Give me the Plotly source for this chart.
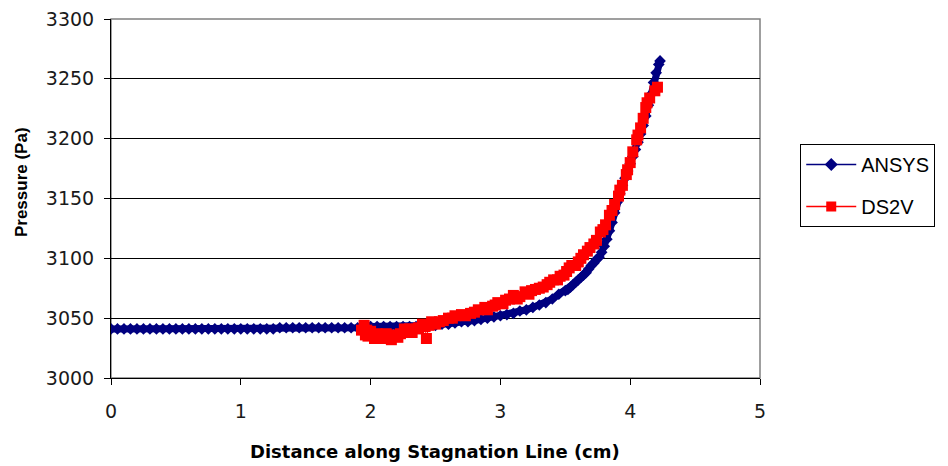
import plotly.graph_objects as go

# ---- ANSYS series (distance cm, pressure Pa) ----
ansys_x = [0.00, 0.05, 0.10, 0.15, 0.20, 0.25, 0.30, 0.35, 0.40, 0.45,
           0.50, 0.55, 0.60, 0.65, 0.70, 0.75, 0.80, 0.85, 0.90, 0.95,
           1.00, 1.05, 1.10, 1.15, 1.20, 1.25, 1.30, 1.35, 1.40, 1.45,
           1.50, 1.55, 1.60, 1.65, 1.70, 1.75, 1.80, 1.85, 1.90, 1.95,
           2.00, 2.05, 2.10, 2.15, 2.20, 2.25, 2.30, 2.35, 2.40, 2.45,
           2.50, 2.55, 2.60, 2.65, 2.70, 2.75, 2.80, 2.85, 2.90, 2.95,
           3.00, 3.05, 3.10, 3.15, 3.20, 3.25, 3.30, 3.35, 3.40, 3.45,
           3.50, 3.52, 3.54, 3.56, 3.58, 3.60, 3.62, 3.64, 3.66, 3.68,
           3.70, 3.72, 3.74, 3.76, 3.78, 3.80, 3.82, 3.84, 3.86, 3.88,
           3.90, 3.92, 3.94, 3.96, 3.98, 4.00, 4.02, 4.04, 4.06, 4.08,
           4.10, 4.12, 4.14, 4.16, 4.18, 4.20, 4.22, 4.23]
ansys_p = [3041, 3041, 3041, 3041, 3041, 3041, 3041, 3041, 3041, 3041,
           3041, 3041, 3041, 3041, 3041, 3041, 3041, 3041, 3041, 3041,
           3041, 3041, 3041, 3041, 3041, 3041, 3042, 3042, 3042, 3042,
           3042, 3042, 3042, 3042, 3042, 3042, 3042, 3042, 3042, 3042,
           3043, 3043, 3043, 3043, 3043, 3043, 3043, 3043, 3043, 3044,
           3044, 3045, 3045, 3046, 3047, 3047, 3048, 3049, 3050, 3051,
           3052, 3053, 3054, 3056, 3057, 3059, 3061, 3063, 3066, 3070,
           3073, 3074, 3076, 3078, 3080, 3082, 3084, 3086, 3088, 3091,
           3094, 3096, 3099, 3101, 3105, 3110, 3116, 3123, 3130, 3138,
           3147, 3154, 3161, 3167, 3173, 3179, 3185, 3191, 3197, 3204,
           3211, 3219, 3228, 3237, 3247, 3255, 3262, 3265]

# ---- DS2V series ----
ds2v_x = [1.93, 1.95, 1.96, 1.97, 1.98, 2.00, 2.03, 2.05, 2.08, 2.11,
          2.12, 2.16, 2.18, 2.21, 2.23, 2.26, 2.27, 2.30, 2.32, 2.35,
          2.37, 2.40, 2.42, 2.43, 2.45, 2.47, 2.50, 2.53, 2.56, 2.60,
          2.63, 2.65, 2.70, 2.73, 2.77, 2.80, 2.83, 2.88, 2.90, 2.94,
          2.96, 2.98, 3.02, 3.04, 3.07, 3.10, 3.13, 3.15, 3.19, 3.22,
          3.24, 3.27, 3.30, 3.33, 3.36, 3.38, 3.41, 3.44, 3.46, 3.49,
          3.51, 3.53, 3.55, 3.58, 3.60, 3.62, 3.64, 3.67, 3.69, 3.72,
          3.74, 3.77, 3.79, 3.81, 3.84, 3.86, 3.88, 3.91, 3.92, 3.94,
          3.97, 3.98, 4.00, 4.02, 4.05, 4.06, 4.08, 4.10, 4.12, 4.13,
          4.15, 4.19, 4.21]
ds2v_p = [3040, 3044, 3036, 3040, 3035, 3039, 3033, 3037, 3035, 3033,
          3037, 3032, 3036, 3034, 3037, 3041, 3038, 3041, 3038, 3041,
          3042, 3045, 3043, 3033, 3044, 3047, 3045, 3047, 3048, 3050,
          3050, 3052, 3053, 3052, 3054, 3055, 3057, 3059, 3057, 3060,
          3061, 3063, 3062, 3065, 3066, 3069, 3066, 3068, 3072, 3070,
          3073, 3074, 3075, 3076, 3078, 3080, 3082, 3082, 3085, 3086,
          3089, 3092, 3094, 3094, 3097, 3100, 3103, 3106, 3109, 3112,
          3115, 3122, 3124, 3128, 3136, 3140, 3145, 3152, 3157, 3161,
          3170, 3174, 3180, 3189, 3199, 3203, 3209, 3217, 3226, 3230,
          3234, 3240, 3243]

x_ticks = [0, 1, 2, 3, 4, 5]
y_ticks = [3000, 3050, 3100, 3150, 3200, 3250, 3300]

ARIAL = "Arial, Liberation Sans, sans-serif"
WIDE = "DejaVu Sans, Verdana, sans-serif"
NAVY = "#000080"
RED = "#FF0000"

fig = go.Figure()
# data traces
fig.add_trace(go.Scatter(
    x=ansys_x, y=ansys_p, name="ANSYS", mode="lines+markers",
    line=dict(color=NAVY, width=7),
    marker=dict(symbol="diamond", size=9, color=NAVY),
    showlegend=False,
))
fig.add_trace(go.Scatter(
    x=ds2v_x, y=ds2v_p, name="DS2V", mode="lines+markers",
    line=dict(color=RED, width=1),
    marker=dict(symbol="square", size=11, color=RED),
    showlegend=False,
))
# legend entries (thin line + marker, as in the reference legend)
fig.add_trace(go.Scatter(
    x=[None], y=[None], name="ANSYS", mode="lines+markers",
    line=dict(color=NAVY, width=1.5),
    marker=dict(symbol="diamond", size=10, color=NAVY),
    legendgroup="a",
))
fig.add_trace(go.Scatter(
    x=[None], y=[None], name="DS2V", mode="lines+markers",
    line=dict(color=RED, width=1.5),
    marker=dict(symbol="square", size=10, color=RED),
    legendgroup="b",
))

fig.update_layout(
    width=940, height=458,
    margin=dict(l=103, r=188, t=11, b=88, autoexpand=False),
    paper_bgcolor="white", plot_bgcolor="white",
    font=dict(family=ARIAL, size=16, color="#1a1a1a"),
    showlegend=True,
    legend=dict(
        x=1.062, y=0.652, xanchor="left", yanchor="top",
        bordercolor="#000000", borderwidth=1, bgcolor="white",
        font=dict(family=ARIAL, size=20, color="#000000"),
        itemwidth=50, tracegroupgap=13,
    ),
    shapes=[dict(type="rect", xref="paper", yref="paper", x0=0, y0=0, x1=1, y1=1,
                 line=dict(color="#808080", width=1.5), layer="below")],
    annotations=[
        dict(text="<b>Distance along Stagnation Line (cm)</b>", xref="paper", yref="paper",
             x=0.499, y=-0.206, xanchor="center", yanchor="middle", showarrow=False,
             font=dict(family=WIDE, size=18, color="#000000")),
        dict(text="<b>Pressure (Pa)</b>", xref="paper", yref="paper",
             x=-0.137, y=0.546, xanchor="center", yanchor="middle", showarrow=False,
             textangle=-90, font=dict(family=ARIAL, size=17, color="#000000")),
    ],
)
fig.update_xaxes(
    range=[0, 5], tickvals=x_ticks, ticks="outside", ticklen=6, tickcolor="black",
    showline=True, linecolor="black", linewidth=1, showgrid=False, zeroline=False,
    automargin=False, ticklabelstandoff=10, ticklabeloverflow="allow",
    tickfont=dict(family=WIDE, size=19, color="#1a1a1a"),
)
fig.update_yaxes(
    range=[3000, 3300], tickvals=y_ticks, ticks="outside", ticklen=6, tickcolor="black",
    showline=True, linecolor="black", linewidth=1, showgrid=True, gridcolor="#000000",
    gridwidth=1, zeroline=False, automargin=False, ticklabelstandoff=6,
    ticklabeloverflow="allow",
    tickfont=dict(family=WIDE, size=19, color="#1a1a1a"),
)

fig.write_html("out.html")
